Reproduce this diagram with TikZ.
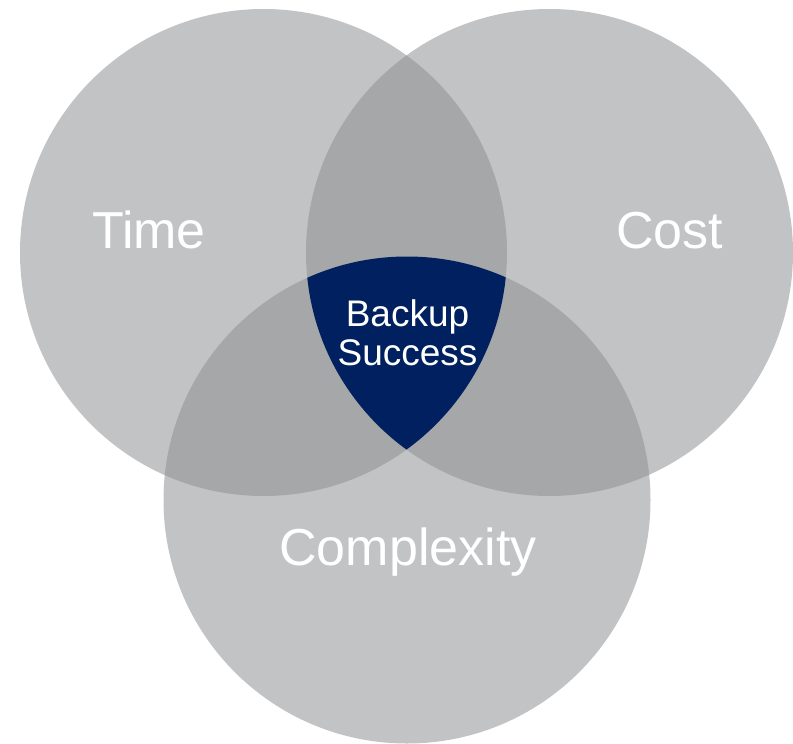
\documentclass[tikz,border=0pt]{standalone}
\usepackage{fontspec}
\setmainfont{Liberation Sans}
\definecolor{lightg}{HTML}{C2C3C5}
\definecolor{darkg}{HTML}{A6A7A9}
\definecolor{navyc}{HTML}{00205F}
\begin{document}
\begin{tikzpicture}[x=1pt,y=-1pt,
  big/.style={text=white,inner sep=0pt,anchor=base,font=\fontsize{52}{60}\selectfont},
  small/.style={text=white,inner sep=0pt,anchor=base,font=\fontsize{37}{39}\selectfont}]
\useasboundingbox (0,0) rectangle (793,744);
\def\R{243.5}
\coordinate (ct) at (263.5,252.5);
\coordinate (cc) at (549.5,252.5);
\coordinate (cx) at (407,500);
\fill[lightg] (ct) circle[radius=\R];
\fill[lightg] (cc) circle[radius=\R];
\fill[lightg] (cx) circle[radius=\R];
\begin{scope}
  \clip (ct) circle[radius=\R];
  \fill[darkg] (cc) circle[radius=\R];
  \fill[darkg] (cx) circle[radius=\R];
\end{scope}
\begin{scope}
  \clip (cc) circle[radius=\R];
  \fill[darkg] (cx) circle[radius=\R];
\end{scope}
\begin{scope}
  \clip (ct) circle[radius=\R];
  \clip (cc) circle[radius=\R];
  \fill[navyc] (cx) circle[radius=\R];
\end{scope}
\node[big] (time) at (149,248) {Time};
\node[big] (cost) at (669.5,248) {Cost};
\node[big] (cplx) at (408,565) {Complexity};
\node[small] (backup) at (407.5,326) {Backup};
\node[small] (success) at (407.5,365) {Success};
\end{tikzpicture}
\end{document}
